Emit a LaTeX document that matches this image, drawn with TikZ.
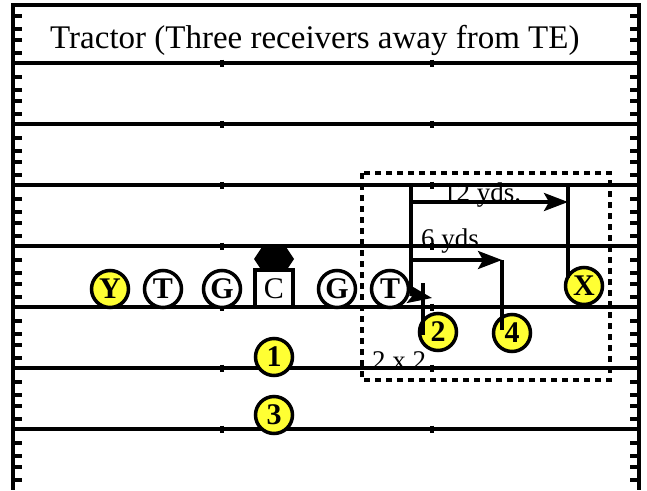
\documentclass[tikz,border=0pt]{standalone}
\usepackage{fontspec}
\setmainfont{Liberation Serif}
\usetikzlibrary{arrows.meta,calc}
\definecolor{ryel}{RGB}{255,255,51}
\tikzset{
  field/.style={line width=3.2pt},
  sideline/.style={line width=4pt},
  player/.style={circle,draw,line width=3.5pt,minimum size=37pt,inner sep=0pt,fill=white,font=\bfseries\fontsize{30}{30}\selectfont},
  rcv/.style={player,fill=ryel},
  center/.style={rectangle,draw,line width=3.5pt,minimum width=38pt,minimum height=37pt,inner sep=0pt,fill=white,font=\fontsize{30}{30}\selectfont},
  route/.style={line width=3.4pt},
  arr/.style={route,-{Stealth[length=24pt,width=18pt,inset=5pt]}},
  lbl/.style={anchor=base west,inner sep=0pt,font=\fontsize{27}{27}\selectfont},
  zone/.style={line width=3.4pt,dash pattern=on 6pt off 5pt}
}
\begin{document}
\begin{tikzpicture}[x=1pt,y=-1pt]
\useasboundingbox (0,0) rectangle (647,490);
% field
\draw[sideline] (13,5) -- (13,490);
\draw[sideline] (639,5) -- (639,490);
\draw[line width=3.4pt] (11,5) -- (641,5);
\foreach \y in {63,124,185,246,307,368,429} {
  \draw[field] (13,\y) -- (639,\y);
  \draw[line width=3.4pt] (222,\y-3.5) -- (222,\y+3.5);
  \draw[line width=3.4pt] (432,\y-3.5) -- (432,\y+3.5);
}
\foreach \l in {2,63,124,185,246,307,368,429} {
  \foreach \o in {14,27,38,51} {
    \draw[field] (13,\l+\o) -- (22,\l+\o);
    \draw[field] (630,\l+\o) -- (639,\l+\o);
  }
}
% title
\node[anchor=base west,inner sep=0pt,font=\fontsize{33}{33}\selectfont] (title) at (50,48) {Tractor (Three receivers away from TE)};
% zone box
\draw[zone] (362,173) rectangle (610,380);
% players
\node[rcv] (Y) at (110,289) {Y};
\node[player] (T1) at (163,289) {T};
\node[player] (G1) at (222,289) {G};
\node[center] (C) at (274,288.5) {C};
\node[player] (G2) at (337,289) {G};
\node[player] (T2) at (390,289) {T};
\node[rcv] (X) at (584,286) {X};
\node[rcv] (N1) at (274,357) {1};
\node[rcv] (N3) at (274,415) {3};
\node[rcv] (N2) at (438,332) {2};
\node[rcv] (N4) at (512,333) {4};
% ball
\coordinate (ball) at (274,259);
\fill (ball) ++(-20,0) -- ++(8,-12) -- ++(24,0) -- ++(8,12) -- ++(-8,12) -- ++(-24,0) -- cycle;
% routes
\coordinate (stemTop) at (411,185);
\coordinate (stemBot) at (411,293);
\coordinate (a12) at (411,202);
\coordinate (a6) at (411,260);
\coordinate (xTop) at ($(X.center)+(-16,-101)$);
\coordinate (xIn) at ($(X.center)+(-16,-8)$);
\coordinate (c4) at (502,260);
\coordinate (n4in) at ($(N4.center)+(-10,-3)$);
\coordinate (r2top) at (423,283);
\coordinate (n2in) at ($(N2.center)+(-15,3)$);
\coordinate (r2tip) at (432,298);
\draw[route] (stemBot) -- (stemTop);
\draw[route] (xIn) -- (xTop);
\draw[arr] (a12) -- (a12 -| xTop);
\draw[arr] (a6) -- (c4);
\draw[route] (c4) -- (n4in);
\draw[arr] (T2.-15) -- (r2tip);
\draw[route] (r2top) -- (n2in);
% labels
\node[lbl] (l12) at (443,201) {12 yds.};
\node[lbl] (l6) at (421,247) {6 yds.};
\node[lbl] (l22) at (372,369) {2 x 2};
\end{tikzpicture}
\end{document}
